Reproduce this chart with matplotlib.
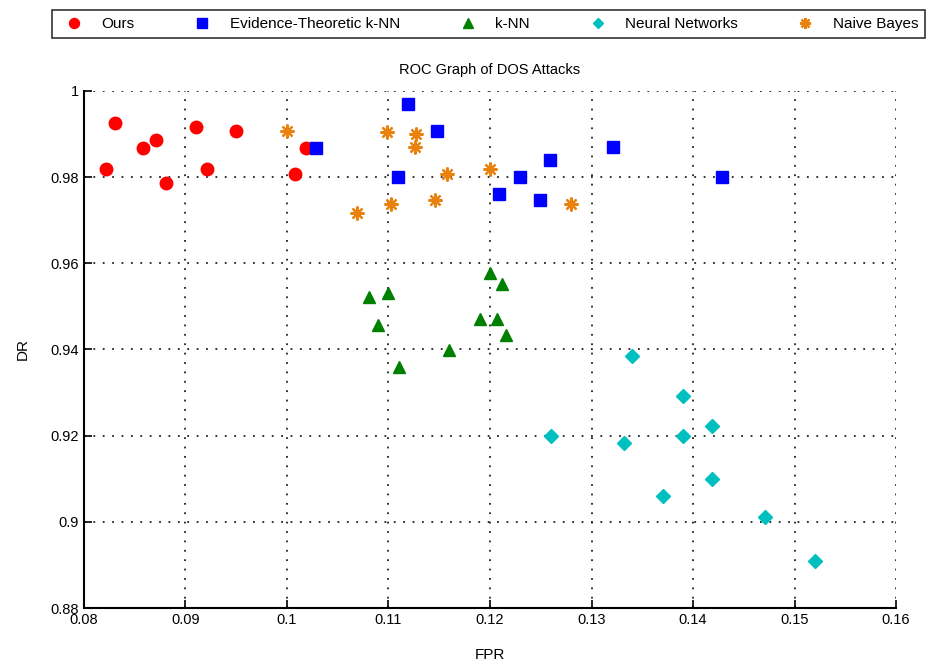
import matplotlib
matplotlib.use('Agg')
import matplotlib.pyplot as plt

### plotting parameters ###
plt.rcParams['font.family'] = ['Liberation Sans Narrow', 'Liberation Sans', 'DejaVu Sans']
fs = 11
fssml = 10.5

### data (FPR, DR) ###
ours_fpr = [0.0822, 0.0831, 0.0858, 0.0871, 0.0881, 0.0910, 0.0921, 0.0950, 0.1019, 0.1008]
ours_dr = [0.9818, 0.9926, 0.9868, 0.9886, 0.9786, 0.9917, 0.9818, 0.9908, 0.9868, 0.9807]

etknn_fpr = [0.1029, 0.1119, 0.1148, 0.1109, 0.1321, 0.1259, 0.1230, 0.1209, 0.1249, 0.1429]
etknn_dr = [0.9868, 0.9969, 0.9908, 0.9800, 0.9870, 0.9839, 0.9800, 0.9760, 0.9747, 0.9800]

knn_fpr = [0.1081, 0.1100, 0.1090, 0.1110, 0.1160, 0.1200, 0.1212, 0.1190, 0.1207, 0.1216]
knn_dr = [0.9522, 0.9532, 0.9457, 0.9360, 0.9399, 0.9578, 0.9552, 0.9470, 0.9470, 0.9434]

nn_fpr = [0.1340, 0.1390, 0.1260, 0.1390, 0.1419, 0.1332, 0.1419, 0.1370, 0.1471, 0.1520]
nn_dr = [0.9386, 0.9292, 0.9200, 0.9200, 0.9222, 0.9182, 0.9100, 0.9061, 0.9011, 0.8910]

nb_fpr = [0.1000, 0.1099, 0.1127, 0.1126, 0.1158, 0.1069, 0.1102, 0.1146, 0.1200, 0.1280]
nb_dr = [0.9908, 0.9904, 0.9900, 0.9869, 0.9807, 0.9717, 0.9738, 0.9748, 0.9818, 0.9738]

xticks = [0.08, 0.09, 0.1, 0.11, 0.12, 0.13, 0.14, 0.15, 0.16]
xticklabels = ['0.08', '0.09', '0.1', '0.11', '0.12', '0.13', '0.14', '0.15', '0.16']
yticks = [0.88, 0.9, 0.92, 0.94, 0.96, 0.98, 1.0]
yticklabels = ['0.88', '0.9', '0.92', '0.94', '0.96', '0.98', '1']

### plot ###
fig = plt.figure(figsize=(9.32, 6.65), dpi=100)
ax = fig.add_axes([0.0901, 0.0857, 0.8713, 0.7775])

ax.plot(ours_fpr, ours_dr, marker='o', color='#FF0000', linestyle='None', markersize=9, label='Ours')
ax.plot(etknn_fpr, etknn_dr, marker='s', color='#0000FF', linestyle='None', markersize=9, label='Evidence-Theoretic k-NN')
ax.plot(knn_fpr, knn_dr, marker='^', color='#008000', linestyle='None', markersize=8.5, label='k-NN')
ax.plot(nn_fpr, nn_dr, marker='D', color='#00BFBF', linestyle='None', markersize=7, label='Neural Networks')
ax.plot(nb_fpr, nb_dr, marker=(8, 2, 0), color='#E8820C', markeredgewidth=1.6, linestyle='None', markersize=10, label='Naive Bayes')

ax.set_xlim([0.08, 0.16])
ax.set_ylim([0.88, 1.0])
ax.set_xticks(xticks)
ax.set_xticklabels(xticklabels)
ax.set_yticks(yticks)
ax.set_yticklabels(yticklabels)
ax.tick_params(axis='both', labelsize=fssml, direction='in', length=6, width=1.2)
ax.grid(True, linestyle=(0, (1, 4.2)), color='#222222', linewidth=1.3)
ax.spines['top'].set_visible(False)
ax.spines['right'].set_visible(False)
ax.spines['left'].set_linewidth(1.5)
ax.spines['bottom'].set_linewidth(1.5)

ax.set_title('ROC Graph of DOS Attacks', fontsize=fssml, pad=12)
ax.set_xlabel('FPR', fontsize=fs, labelpad=15)
ax.set_ylabel('DR', fontsize=fs, labelpad=15)

leg = fig.legend(loc='lower left', bbox_to_anchor=(0.0558, 0.943, 0.937, 0.05), mode='expand',
                 ncol=5, fontsize=fs, frameon=True, fancybox=False, edgecolor='black',
                 borderaxespad=0, handletextpad=0.8, borderpad=0.45, markerscale=0.8)
leg.get_frame().set_linewidth(1.2)

plt.savefig('out.png', dpi=100)
plt.close()
